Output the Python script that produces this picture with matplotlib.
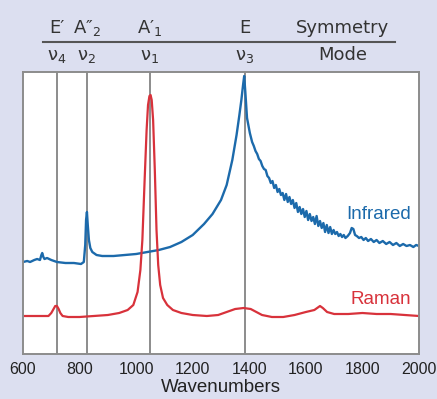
import numpy as np
import matplotlib.pyplot as plt
import matplotlib.transforms as mtransforms

# infrared spectrum (arbitrary intensity)
ir_x = [600, 615, 625, 640, 650, 660, 665, 668, 672, 676, 685, 700, 720, 750, 780,
        805, 815, 820, 823, 826, 829, 833, 838, 845, 860, 880, 920, 960, 1000, 1040,
        1080, 1120, 1160, 1200, 1240, 1270, 1300, 1320, 1340, 1355, 1365, 1372, 1378,
        1382, 1386, 1392, 1402, 1410, 1416, 1422, 1428, 1434, 1440, 1446, 1452, 1458,
        1464, 1470, 1476, 1482, 1488, 1494, 1500, 1506, 1512, 1518, 1524, 1530, 1536,
        1542, 1548, 1554, 1560, 1566, 1572, 1578, 1584, 1590, 1596, 1602, 1608, 1614,
        1620, 1626, 1632, 1638, 1644, 1650, 1656, 1662, 1668, 1674, 1680, 1686, 1692,
        1698, 1704, 1710, 1716, 1722, 1728, 1734, 1740, 1748, 1756, 1762, 1768, 1774,
        1780, 1788, 1796, 1804, 1812, 1820, 1830, 1840, 1850, 1860, 1872, 1884, 1896,
        1908, 1920, 1932, 1944, 1956, 1968, 1980, 1990, 2000]
ir_y = [92, 93, 92, 94, 95, 94, 99, 101, 97, 95, 96, 94, 92, 91, 91,
        90, 92, 109, 134, 142, 129, 114, 106, 102, 99, 98, 98, 99, 100, 102,
        104, 107, 112, 119, 130, 140, 154, 169, 194, 219, 239, 254, 269,
        278, 262, 236, 221, 212, 208, 203, 200, 195, 193, 188, 185, 184,
        178, 176, 171, 173, 166, 169, 162, 165, 159, 161, 154, 160, 152,
        157, 150, 154, 146, 151, 142, 147, 140, 145, 137, 143, 134, 140,
        133, 137, 130, 138, 128, 133, 126, 131, 122, 129, 121, 127, 120,
        124, 120, 122, 118, 120, 117, 119, 116, 118, 121, 126, 125, 119,
        118, 116, 117, 114, 116, 113, 115, 112, 114, 111, 113, 110, 112,
        109, 111, 108, 110, 108, 109, 107, 109, 108]

# raman spectrum (arbitrary intensity)
ra_x = [600, 650, 690, 700, 708, 714, 720, 726, 732, 740, 760, 800, 850, 900, 940,
        970, 990, 1005, 1015, 1022, 1030, 1037, 1042, 1047, 1051, 1055, 1060, 1066,
        1072, 1078, 1085, 1095, 1110, 1130, 1160, 1200, 1250, 1290, 1320, 1350, 1380,
        1405, 1425, 1445, 1480, 1520, 1560, 1600, 1630, 1650, 1660, 1675, 1700, 1750,
        1800, 1850, 1900, 1950, 2000]
ra_y = [38, 38, 38, 41, 45, 48, 48, 45, 41, 38, 37, 37, 38, 39, 41,
        44, 49, 62, 84, 114, 174, 224, 249, 258, 259, 254, 234, 184,
        124, 89, 69, 56, 49, 44, 41, 39, 38, 39, 42, 45, 46,
        45, 42, 39, 37, 37, 39, 42, 44, 48, 46, 42, 40, 40,
        41, 40, 40, 39, 38]

# vibrational modes
mode_pos = [720, 826, 1049, 1384]
sym_labels = ["E\u2032", "A\u2033$_2$", "A\u2032$_1$", "E"]
mode_labels = ["\u03bd$_4$", "\u03bd$_2$", "\u03bd$_1$", "\u03bd$_3$"]

bg = "#dcdff0"
blue = "#1c6aab"
red = "#d8323b"
gray = "#8c8c8c"
text_c = "#333333"

plt.rcParams['font.family'] = ['Liberation Sans', 'DejaVu Sans']
plt.rcParams['mathtext.fontset'] = 'dejavusans'

fig = plt.figure(figsize=(4.37, 3.99), dpi=100, facecolor=bg)
ax = fig.add_axes([23 / 437, 45 / 399, 396 / 437, 282 / 399])

for x in mode_pos:
    ax.axvline(x, color=gray, lw=1.4, zorder=1)

ax.plot(ir_x, ir_y, color=blue, lw=1.7, zorder=2)
ax.plot(ra_x, ra_y, color=red, lw=1.6, zorder=2)

ax.text(0.98, 0.493, "Infrared", transform=ax.transAxes, color=blue,
        fontsize=13.5, ha='right', va='center')
ax.text(0.98, 0.195, "Raman", transform=ax.transAxes, color=red,
        fontsize=13.5, ha='right', va='center')

ax.set_xlim(600, 2000)
ax.set_ylim(0, 282)
ax.set_xticks(range(600, 2001, 200))
ax.set_yticks([])
ax.tick_params(axis='x', length=0, labelsize=11.5, pad=6, colors='#222222')
ax.set_xlabel("Wavenumbers", fontsize=13.5, labelpad=1, color='#222222')
for s in ax.spines.values():
    s.set_color(gray)
    s.set_linewidth(1.4)

# header table above the plot
trans = mtransforms.blended_transform_factory(ax.transData, fig.transFigure)
hfont = dict(family=['DejaVu Sans'], fontsize=13, color=text_c)
for x, s, m in zip(mode_pos, sym_labels, mode_labels):
    ax.text(x, 1 - 28 / 399, s, transform=trans, ha='center', va='center',
            clip_on=False, **hfont)
    ax.text(x, 1 - 56 / 399, m, transform=trans, ha='center', va='center',
            clip_on=False, **hfont)
ax.text(1731, 1 - 28 / 399, "Symmetry", transform=trans, ha='center',
        va='center', clip_on=False, **hfont)
ax.text(1731, 1 - 55 / 399, "Mode", transform=trans, ha='center',
        va='center', clip_on=False, **hfont)
fig.add_artist(plt.Line2D([43 / 437, 395 / 437], [1 - 42 / 399, 1 - 42 / 399],
                          color='#555555', lw=1.5))

fig.savefig("out.png", dpi=100, facecolor=bg)
